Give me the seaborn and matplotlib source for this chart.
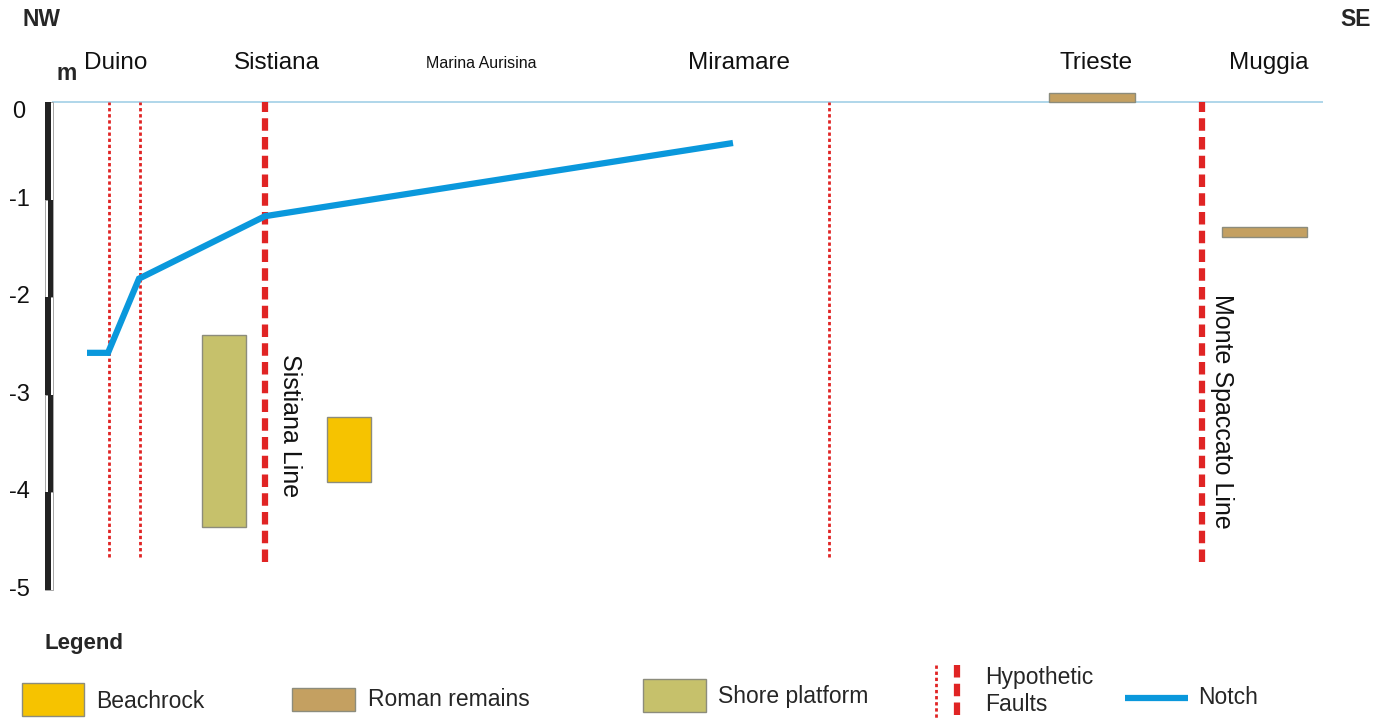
import matplotlib
matplotlib.use("Agg")
import matplotlib.pyplot as plt
import seaborn as sns
import pandas as pd
from matplotlib.patches import Rectangle
from matplotlib.lines import Line2D

# ---------------- data ----------------
# along-coast distance (arbitrary units, left = NW) and elevation in metres
places = ["Duino", "Sistiana", "Marina Aurisina", "Miramare", "Trieste", "Muggia"]
place_x = [116, 277, 481, 739, 1096, 1269]

notch_x = [87, 108, 139, 265, 733]
notch_y = [-2.57, -2.57, -1.81, -1.17, -0.42]

# rectangles: x_left, x_right, top, bottom
shore_x = [202, 246]; shore_y = [-2.39, -4.35]
beach_x = [327, 371]; beach_y = [-3.23, -3.89]
roman_x = [[1049, 1135], [1222, 1307]]
roman_y = [[0.09, 0.0], [-1.28, -1.38]]

minor_faults = [109, 140, 829]
major_faults = [265, 1202]
fault_bottom = -4.66
major_names = ["Sistiana Line", "Monte Spaccato Line"]

yticks = [0, -1, -2, -3, -4, -5]

# colours
C_BEACH = "#F6C300"
C_ROMAN = "#C4A061"
C_SHORE = "#C6C16B"
C_RED = "#E02424"
C_BLUE = "#0A98DC"
C_SEA = "#A9D3E8"
EDGE = "#8C8C7C"

sns.set_theme(style="white")
plt.rcParams["font.family"] = ["Liberation Sans", "DejaVu Sans"]

W, H = 1391, 720
fig = plt.figure(figsize=(W / 100, H / 100), dpi=100)
ax = fig.add_axes([0, 0, 1, 1])
PX = 97.6  # pixels per metre
ax.set_xlim(0, W)
ax.set_ylim(-(H - 102) / PX, 102 / PX)
ax.axis("off")

def pt(x, y):
    """pixel (top-left origin) to axes fraction"""
    return x / W, 1 - y / H

# sea level line
ax.hlines(0, 52, 1323, color=C_SEA, lw=1.3, zorder=1)

# scale bar
for i in range(5):
    bot = -(i + 1)
    ax.add_patch(Rectangle((45, bot), 8, 1, facecolor="white", edgecolor="#999999", lw=0.6, zorder=3))
    xl = 45 if i % 2 == 0 else 47.5
    ax.add_patch(Rectangle((xl, bot), 5.5, 1, facecolor="#222222", edgecolor="none", zorder=4))
for t in yticks:
    ax.text(19, t - (0.1 if t == 0 else 0.0), f"{t}", ha="center", va="center", fontsize=17, color="#111111")

# faults
ax.vlines(minor_faults, fault_bottom, 0, colors=C_RED, linestyles=(0, (1.2, 1.0)), lw=2.0, zorder=2)
ax.vlines(major_faults, fault_bottom - 0.05, 0, colors=C_RED, linestyles=(0, (2.0, 1.0)), lw=4.5, zorder=2)

# rectangles via bar
ax.bar([(shore_x[0] + shore_x[1]) / 2], [shore_y[0] - shore_y[1]], bottom=[shore_y[1]],
       width=shore_x[1] - shore_x[0], color=C_SHORE, edgecolor=EDGE, lw=1.0, zorder=3)
ax.bar([(beach_x[0] + beach_x[1]) / 2], [beach_y[0] - beach_y[1]], bottom=[beach_y[1]],
       width=beach_x[1] - beach_x[0], color=C_BEACH, edgecolor=EDGE, lw=1.0, zorder=3)
for rx, ry in zip(roman_x, roman_y):
    ax.bar([(rx[0] + rx[1]) / 2], [ry[0] - ry[1]], bottom=[ry[1]], width=rx[1] - rx[0],
           color=C_ROMAN, edgecolor=EDGE, lw=1.0, zorder=3)

# notch
df = pd.DataFrame({"x": notch_x, "y": notch_y})
sns.lineplot(data=df, x="x", y="y", ax=ax, color=C_BLUE, lw=4.5, sort=False, zorder=5,
             solid_joinstyle="miter", solid_capstyle="butt")
ax.axis("off")

# fault names
ax.text(290, -3.32, major_names[0], rotation=-90, ha="center", va="center", fontsize=18, color="#111111")
ax.text(1222, -3.17, major_names[1], rotation=-90, ha="center", va="center", fontsize=18, color="#111111")

# place names
for name, x in zip(places, place_x):
    fs = 11.5 if name == "Marina Aurisina" else 17.5
    ax.text(*pt(x, 63), name, transform=ax.transAxes, ha="center", va="center", fontsize=fs, color="#111111")

ax.text(*pt(42, 20), "NW", transform=ax.transAxes, ha="center", va="center", fontsize=16.5, fontweight="bold")
ax.text(*pt(1356, 20), "SE", transform=ax.transAxes, ha="center", va="center", fontsize=16.5, fontweight="bold")
ax.text(*pt(67, 74), "m", transform=ax.transAxes, ha="center", va="center", fontsize=16.5, fontweight="bold")

# legend
ax.text(*pt(44, 643), "Legend", transform=ax.transAxes, ha="left", va="center", fontsize=16, fontweight="bold")

def lpatch(x0, x1, y0, y1, color):
    xa, ya = pt(x0, y1)
    xb, yb = pt(x1, y0)
    ax.add_patch(Rectangle((xa, ya), xb - xa, yb - ya, transform=ax.transAxes,
                           facecolor=color, edgecolor=EDGE, lw=1.0, clip_on=False))

lpatch(22, 84, 683, 716, C_BEACH)
ax.text(*pt(96, 701), "Beachrock", transform=ax.transAxes, ha="left", va="center", fontsize=16.5)
lpatch(292, 355, 688, 711, C_ROMAN)
ax.text(*pt(368, 699), "Roman remains", transform=ax.transAxes, ha="left", va="center", fontsize=16.5)
lpatch(643, 706, 679, 712, C_SHORE)
ax.text(*pt(718, 697), "Shore platform", transform=ax.transAxes, ha="left", va="center", fontsize=16.5)

xa, ya = pt(936, 665); xb, yb = pt(936, 720)
ax.add_line(Line2D([xa, xb], [ya, yb], transform=ax.transAxes, color=C_RED, lw=2.0, ls=(0, (1.2, 1.0))))
xa, ya = pt(957, 665); xb, yb = pt(957, 720)
ax.add_line(Line2D([xa, xb], [ya, yb], transform=ax.transAxes, color=C_RED, lw=4.5, ls=(0, (2.0, 1.0))))
ax.text(*pt(985, 691), "Hypothetic\nFaults", transform=ax.transAxes, ha="left", va="center",
        fontsize=16.5, linespacing=1.25)

xa, ya = pt(1125, 698); xb, yb = pt(1188, 698)
ax.add_line(Line2D([xa, xb], [ya, yb], transform=ax.transAxes, color=C_BLUE, lw=4.5, solid_capstyle="butt"))
ax.text(*pt(1198, 697), "Notch", transform=ax.transAxes, ha="left", va="center", fontsize=16.5)

fig.savefig("out.png", dpi=100, facecolor="white")
